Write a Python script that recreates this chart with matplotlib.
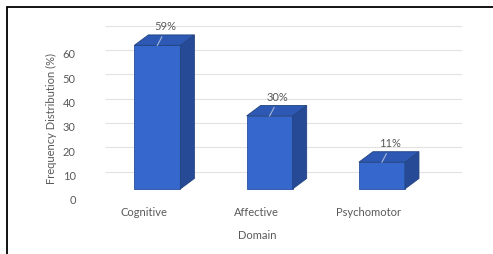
import matplotlib.pyplot as plt
from matplotlib.patches import Polygon, Rectangle
from matplotlib.transforms import ScaledTranslation

# datos
dominios = ["Cognitive", "Affective", "Psychomotor"]
porcentajes = [59, 30, 11]
etiquetas = ["59%", "30%", "11%"]
ticks_y = [0, 10, 20, 30, 40, 50, 60]
lineas_guia = [10, 20, 30, 40, 50, 60, 70]

plt.rcParams["font.family"] = ["Lato", "DejaVu Sans"]
gris = "#595959"

fig = plt.figure(figsize=(4.93, 2.55), dpi=100)
ax = fig.add_axes([0.213, 0.2275, 0.725, 0.687])

# parametros del efecto 3D
piso = 2.9       # desplazamiento del piso en unidades de datos
ancho = 0.41
dx = 0.125       # profundidad en x (datos)
dy = 4.3         # profundidad en y (datos)
c_frente = "#3667cc"
c_lado = "#264a96"
c_tope = "#2d58b4"

xs = list(range(len(dominios)))
ax.bar(xs, porcentajes, width=ancho, bottom=piso, color=c_frente,
       edgecolor="#2a4f9e", linewidth=0.6, zorder=3)

for x, v, et in zip(xs, porcentajes, etiquetas):
    x0, x1 = x - ancho / 2, x + ancho / 2
    y0, y1 = piso, piso + v
    lado = Polygon([(x1, y0), (x1 + dx, y0 + dy), (x1 + dx, y1 + dy), (x1, y1)],
                   closed=True, facecolor=c_lado, edgecolor="#22447f", lw=0.6, zorder=3)
    tope = Polygon([(x0, y1), (x0 + dx, y1 + dy), (x1 + dx, y1 + dy), (x1, y1)],
                   closed=True, facecolor=c_tope, edgecolor="#22447f", lw=0.6, zorder=3)
    ax.add_patch(lado)
    ax.add_patch(tope)
    # linea guia hacia la etiqueta
    ax.plot([x, x + 0.04], [y1, y1 + 3.5], color="#a6b8d8", lw=0.8, zorder=4)
    ax.text(x + 0.07, y1 + 8, et, ha="center", va="center", fontsize=8,
            color=gris, zorder=5)

# lineas de la pared del fondo
ax.hlines(lineas_guia, -0.466, 2.717, color="#e2e2e2", lw=0.8, zorder=0)

ax.set_xlim(-0.466, 2.717)
ax.set_ylim(0, 72)
ax.set_yticks(ticks_y)
ax.tick_params(axis="y", length=0, pad=21, labelsize=8, labelcolor=gris)
ax.set_xticks(xs)
ax.set_xticklabels(dominios)
ax.tick_params(axis="x", length=0, pad=7, labelsize=8, labelcolor=gris)
desplaz = ScaledTranslation(-13 / 100, 0, fig.dpi_scale_trans)
for lab in ax.get_xticklabels():
    lab.set_transform(lab.get_transform() + desplaz)
desplaz_y = ScaledTranslation(0, -3 / 100, fig.dpi_scale_trans)
for lab in ax.get_yticklabels():
    lab.set_transform(lab.get_transform() + desplaz_y)
for s in ax.spines.values():
    s.set_visible(False)

ax.set_ylabel("Frequency Distribution (%)", fontsize=8, color=gris)
ax.yaxis.set_label_coords(-0.135, 0.45)
ax.set_xlabel("Domain", fontsize=8, color=gris)
ax.xaxis.set_label_coords(0.425, -0.19)

# marco negro (arriba e izquierda)
fig.patches.append(Rectangle((7 / 493, -0.1), 1.2, 1.1 - 8 / 255,
                             transform=fig.transFigure, fill=False,
                             edgecolor="black", lw=1.3))

fig.savefig("out.png", dpi=100)
